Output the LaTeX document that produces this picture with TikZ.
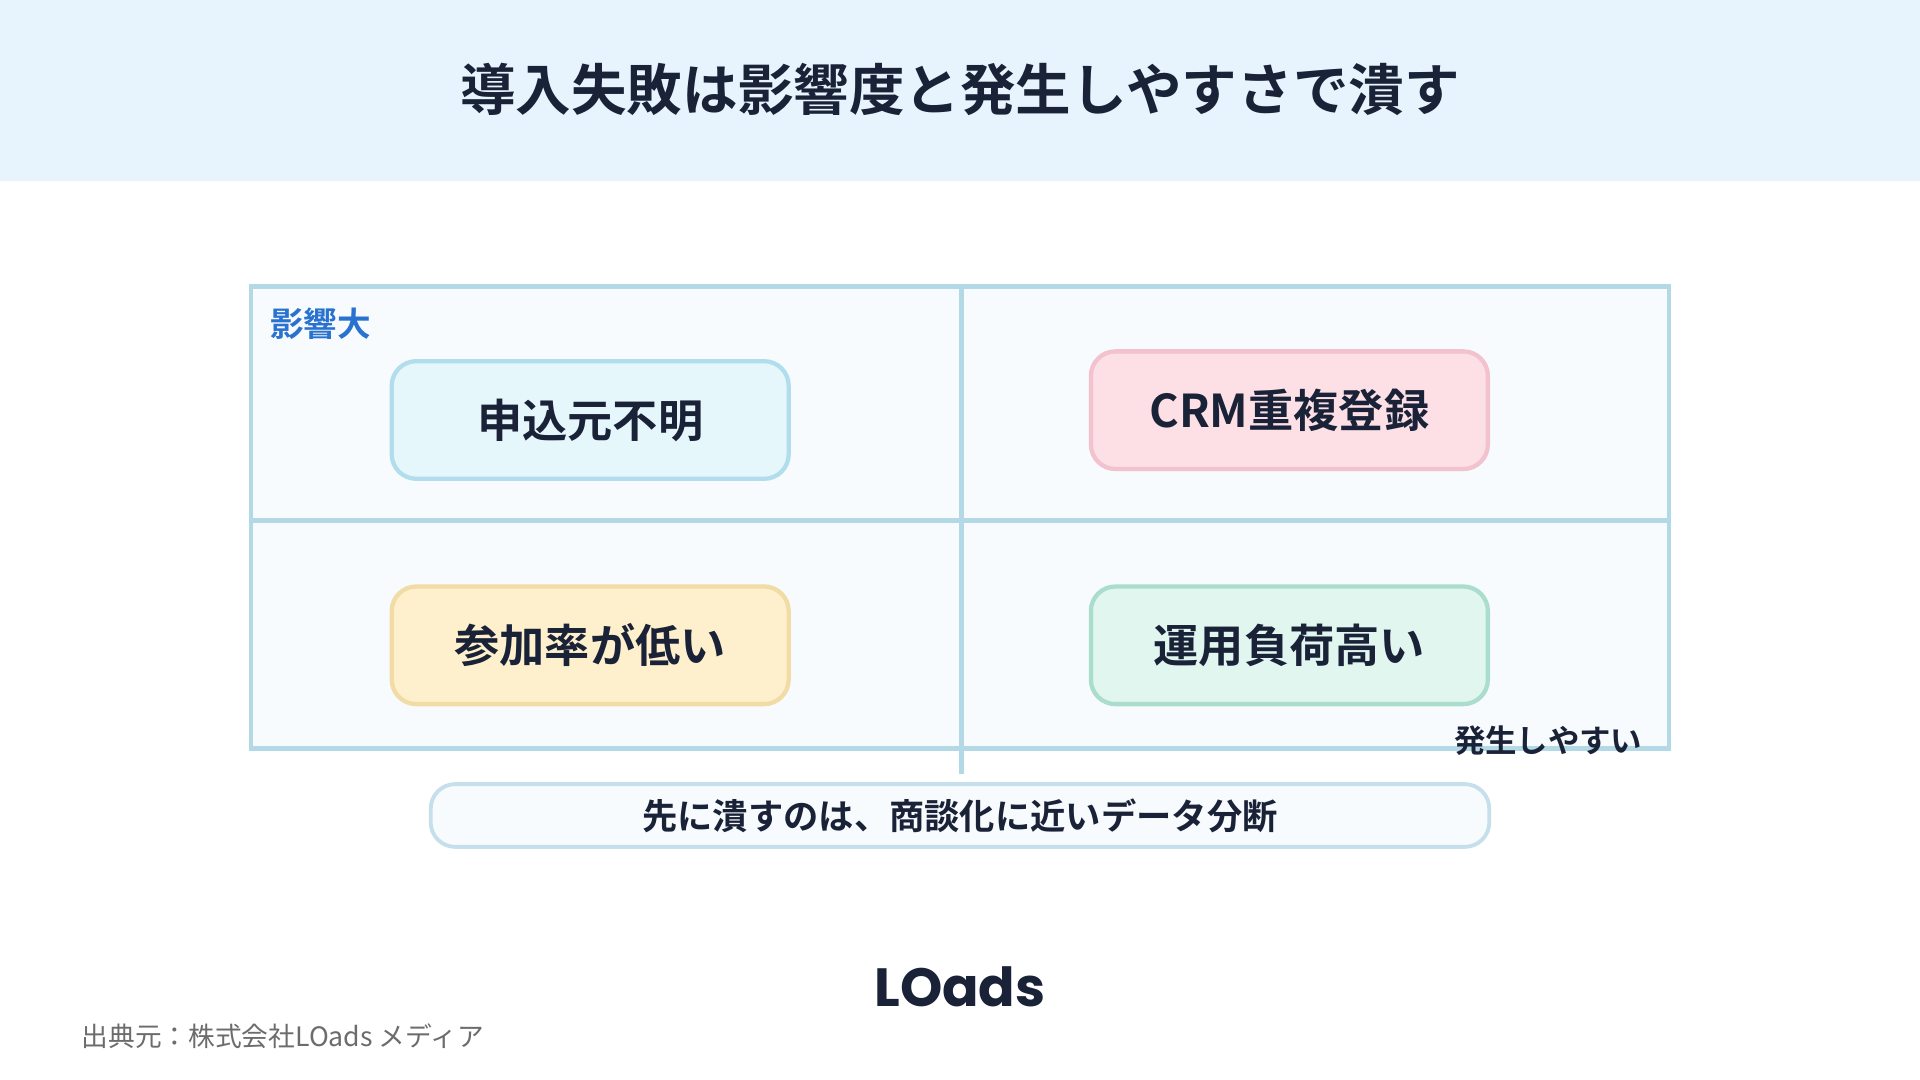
\documentclass[tikz,border=0pt]{standalone}
\usepackage{fontspec}
\setmainfont{Noto Sans CJK JP}
\newfontfamily\jpb{Noto Sans CJK JP Bold}
\newfontfamily\logo{Poppins Bold}
\definecolor{ink}{HTML}{1A2238}
\definecolor{band}{HTML}{E8F4FD}
\definecolor{gridc}{HTML}{B3D9E6}
\definecolor{cellf}{HTML}{F7FBFE}
\definecolor{bluet}{HTML}{2A72D0}
\definecolor{aD}{HTML}{B2DDEC}\definecolor{aF}{HTML}{E6F7FC}
\definecolor{bD}{HTML}{F2C2CE}\definecolor{bF}{HTML}{FDE0E6}
\definecolor{cD}{HTML}{F2DCA6}\definecolor{cF}{HTML}{FEF0CC}
\definecolor{dD}{HTML}{ABDDCD}\definecolor{dF}{HTML}{E0F6EE}
\definecolor{nD}{HTML}{C5E0EA}
\tikzset{
 card/.style 2 args={draw=#1,fill=#2,line width=1pt,rounded corners=0.2cm,minimum width=3.24cm,minimum height=0.96cm,font=\jpb\fontsize{10.5pt}{12pt}\selectfont,text=ink},
 gl/.style={draw=gridc,line width=1.1pt}
}
\begin{document}
\begin{tikzpicture}[x=0.01cm,y=-0.01cm]
\useasboundingbox (0,0) rectangle (1568,882);
\fill[white] (0,0) rectangle (1568,882);
\fill[band] (0,0) rectangle (1568,148);
\node[font=\jpb\fontsize{12.9pt}{16pt}\selectfont,text=ink] (title) at (784,73) {導入失敗は影響度と発生しやすさで潰す};
\path[gl,fill=cellf] (205,234) rectangle (1363,611);
\coordinate (vt) at (785,234); \coordinate (vb) at (785,632);
\coordinate (hl) at (205,425); \coordinate (hr) at (1363,425);
\draw[gl] (vt) -- (vb);
\draw[gl] (hl) -- (hr);
\node[card={aD}{aF}] (a) at (482,343) {申込元不明};
\node[card={bD}{bF}] (b) at (1053,335) {CRM重複登録};
\node[card={cD}{cF}] (c) at (482,527) {参加率が低い};
\node[card={dD}{dF}] (d) at (1053,527) {運用負荷高い};
\node[font=\jpb\fontsize{7.8pt}{9pt}\selectfont,text=bluet,anchor=west,inner sep=0] (hi) at (220,264) {影響大};
\node[font=\jpb\fontsize{7.3pt}{9pt}\selectfont,text=ink,anchor=east,inner sep=0] (ea) at (1342,605) {発生しやすい};
\node[draw=nD,line width=0.9pt,fill=cellf,rounded corners=0.2cm,minimum width=8.64cm,minimum height=0.47cm,font=\jpb\fontsize{8.2pt}{10pt}\selectfont,text=ink] (note) at (784,666) {先に潰すのは、商談化に近いデータ分断};
\node[font=\logo\fontsize{12.5pt}{14pt}\selectfont,text=ink] (lg) at (784,806) {LOads};
\node[font=\fontsize{6.2pt}{8pt}\selectfont,text=gray!85!black,anchor=west,inner sep=0] (src) at (66,846) {出典元：株式会社LOads メディア};
\end{tikzpicture}
\end{document}
